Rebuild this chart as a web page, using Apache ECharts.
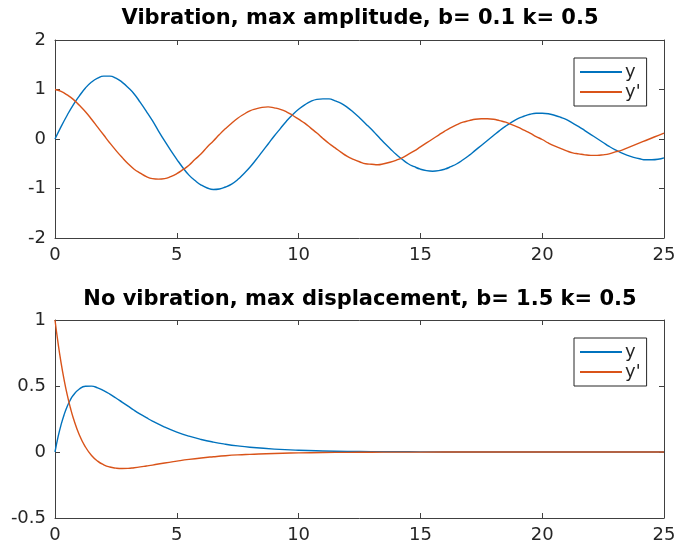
<!doctype html>
<html>
    <head>
        <meta charset="utf-8">
        <style>
            html, body { margin: 0; padding: 0; background: #fff; }
            #main { width: 679px; height: 548px; }
        </style>
    </head>
    <body>
        <div id="main"></div>
        <script src="https://cdn.jsdelivr.net/npm/echarts@6/dist/echarts.min.js"></script>
        <script>
            // top plot: b = 0.1, k = 0.5 (t = 0 .. 25, step 0.25)
            var tTop = [0, 0.25, 0.5, 0.75, 1, 1.25, 1.5, 1.75, 2, 2.25, 2.5, 2.75, 3, 3.25, 3.5, 3.75, 4, 4.25, 4.5, 4.75,
                5, 5.25, 5.5, 5.75, 6, 6.25, 6.5, 6.75, 7, 7.25, 7.5, 7.75, 8, 8.25, 8.5, 8.75, 9, 9.25, 9.5, 9.75,
                10, 10.25, 10.5, 10.75, 11, 11.25, 11.5, 11.75, 12, 12.25, 12.5, 12.75, 13, 13.25, 13.5, 13.75, 14, 14.25, 14.5, 14.75,
                15, 15.25, 15.5, 15.75, 16, 16.25, 16.5, 16.75, 17, 17.25, 17.5, 17.75, 18, 18.25, 18.5, 18.75, 19, 19.25, 19.5, 19.75,
                20, 20.25, 20.5, 20.75, 21, 21.25, 21.5, 21.75, 22, 22.25, 22.5, 22.75, 23, 23.25, 23.5, 23.75, 24, 24.25, 24.5, 24.75, 25];
            var yTop = [0, 0.25, 0.48, 0.69, 0.87, 1.03, 1.15, 1.23, 1.27, 1.27, 1.23, 1.15, 1.04, 0.91, 0.74, 0.56, 0.37, 0.16, -0.04, -0.23,
                -0.41, -0.58, -0.73, -0.84, -0.93, -0.99, -1.02, -1.01, -0.97, -0.91, -0.82, -0.70, -0.57, -0.42, -0.26, -0.10, 0.06, 0.21, 0.36, 0.49,
                0.60, 0.69, 0.76, 0.80, 0.81, 0.81, 0.77, 0.72, 0.64, 0.54, 0.43, 0.31, 0.19, 0.06, -0.07, -0.19, -0.31, -0.41, -0.50, -0.56,
                -0.61, -0.64, -0.65, -0.64, -0.61, -0.56, -0.50, -0.42, -0.33, -0.23, -0.13, -0.03, 0.07, 0.17, 0.26, 0.34, 0.41, 0.46, 0.50, 0.52,
                0.52, 0.51, 0.48, 0.44, 0.39, 0.32, 0.25, 0.17, 0.09, 0.01, -0.07, -0.15, -0.22, -0.28, -0.33, -0.37, -0.40, -0.42, -0.42, -0.41, -0.38];
            var ypTop = [1, 0.96, 0.89, 0.80, 0.68, 0.55, 0.40, 0.24, 0.08, -0.08, -0.23, -0.37, -0.50, -0.61, -0.69, -0.76, -0.80, -0.81, -0.80, -0.76,
                -0.70, -0.62, -0.53, -0.41, -0.30, -0.16, -0.04, 0.09, 0.21, 0.32, 0.42, 0.50, 0.57, 0.61, 0.64, 0.65, 0.63, 0.60, 0.55, 0.48,
                0.40, 0.32, 0.22, 0.12, 0.01, -0.09, -0.18, -0.27, -0.35, -0.41, -0.46, -0.50, -0.51, -0.52, -0.50, -0.47, -0.43, -0.38, -0.31, -0.24,
                -0.16, -0.08, 0, 0.08, 0.16, 0.23, 0.29, 0.34, 0.37, 0.40, 0.41, 0.41, 0.40, 0.37, 0.34, 0.29, 0.24, 0.18, 0.12, 0.05,
                -0.01, -0.08, -0.14, -0.19, -0.24, -0.28, -0.30, -0.32, -0.33, -0.33, -0.32, -0.30, -0.26, -0.23, -0.18, -0.13, -0.08, -0.03, 0.02, 0.07, 0.12];

            // bottom plot: b = 1.5, k = 0.5
            var tBottom = [0, 0.125, 0.25, 0.375, 0.5, 0.625, 0.75, 1, 1.25, 1.5, 1.75, 2, 2.25, 2.5, 2.75, 3, 3.25, 3.5, 3.75, 4,
                4.5, 5, 5.5, 6, 6.5, 7, 7.5, 8, 9, 10, 11, 12, 13, 14, 15, 17, 19, 21, 23, 25];
            var yBottom = [0, 0.114, 0.207, 0.283, 0.345, 0.393, 0.430, 0.477, 0.498, 0.499, 0.486, 0.465, 0.439, 0.409, 0.378, 0.347, 0.316, 0.287, 0.260, 0.234,
                0.189, 0.151, 0.120, 0.095, 0.075, 0.059, 0.046, 0.036, 0.022, 0.013, 0.008, 0.005, 0.003, 0.002, 0.001, 0, 0, 0, 0, 0];
            var ypBottom = [1, 0.826, 0.675, 0.546, 0.434, 0.339, 0.258, 0.129, 0.038, -0.026, -0.069, -0.097, -0.114, -0.122, -0.125, -0.124, -0.119, -0.113, -0.106, -0.099,
                -0.083, -0.069, -0.056, -0.045, -0.036, -0.028, -0.022, -0.018, -0.011, -0.007, -0.004, -0.0025, -0.0015, -0.001, -0.0006, 0, 0, 0, 0, 0];

            var xTicks = [0, 25, 5];
            var blue = '#0072BD';
            var orange = '#D95319';
            var axisColor = '#404040';
            var font = 'DejaVu Sans';

            function pairs(xs, ys) {
                return xs.map(function (x, i) { return [x, ys[i]]; });
            }

            function xAxisFor(grid, pos, show) {
                return {
                    type: 'value', gridIndex: grid, position: pos,
                    min: xTicks[0], max: xTicks[1], interval: xTicks[2],
                    axisLine: { show: true, onZero: false, lineStyle: { color: axisColor, width: 1 } },
                    axisTick: { show: true, inside: true, length: 5, lineStyle: { color: axisColor } },
                    axisLabel: { show: show, color: '#262626', fontFamily: font, fontSize: 18, margin: 8 },
                    splitLine: { show: false }
                };
            }

            function yAxisFor(grid, pos, min, max, step, show) {
                return {
                    type: 'value', gridIndex: grid, position: pos,
                    min: min, max: max, interval: step,
                    axisLine: { show: true, onZero: false, lineStyle: { color: axisColor, width: 1 } },
                    axisTick: { show: true, inside: true, length: 5, lineStyle: { color: axisColor } },
                    axisLabel: { show: show, color: '#262626', fontFamily: font, fontSize: 18, margin: 9 },
                    splitLine: { show: false }
                };
            }

            function legendAt(top) {
                return {
                    orient: 'vertical', left: 574, top: top,
                    data: ['y', "y'"],
                    icon: 'rect', itemWidth: 42, itemHeight: 2, itemGap: 2,
                    padding: [5, 6, 5, 6],
                    borderColor: '#262626', borderWidth: 1,
                    backgroundColor: '#fff',
                    textStyle: { fontFamily: font, fontSize: 18, lineHeight: 18, color: '#262626', padding: [0, 0, 0, -2] },
                    selectedMode: false
                };
            }

            function line(name, color, x, y, xi, yi) {
                return {
                    type: 'line', name: name, xAxisIndex: xi, yAxisIndex: yi,
                    data: pairs(x, y), showSymbol: false, symbol: 'none', smooth: true,
                    lineStyle: { color: color, width: 1.4 }, itemStyle: { color: color },
                    animation: false
                };
            }

            var chart = echarts.init(document.getElementById('main'));

            chart.setOption({
                backgroundColor: '#fff',
                title: [{
                    text: 'Vibration, max amplitude, b= 0.1 k= 0.5',
                    left: 360, top: 8, textAlign: 'center', padding: 0,
                    textStyle: { fontFamily: font, fontSize: 21, fontWeight: 'bold', color: '#000' }
                }, {
                    text: 'No vibration, max displacement, b= 1.5 k= 0.5',
                    left: 360, top: 289, textAlign: 'center', padding: 0,
                    textStyle: { fontFamily: font, fontSize: 21, fontWeight: 'bold', color: '#000' }
                }],
                legend: [legendAt(58), legendAt(338)],
                grid: [
                    { left: 55, width: 609, top: 40, height: 198 },
                    { left: 55, width: 609, top: 320, height: 198 }
                ],
                xAxis: [
                    xAxisFor(0, 'bottom', true), xAxisFor(0, 'top', false),
                    xAxisFor(1, 'bottom', true), xAxisFor(1, 'top', false)
                ],
                yAxis: [
                    yAxisFor(0, 'left', -2, 2, 1, true), yAxisFor(0, 'right', -2, 2, 1, false),
                    yAxisFor(1, 'left', -0.5, 1, 0.5, true), yAxisFor(1, 'right', -0.5, 1, 0.5, false)
                ],
                series: [
                    line('y', blue, tTop, yTop, 0, 0),
                    line("y'", orange, tTop, ypTop, 0, 0),
                    line('y', blue, tBottom, yBottom, 2, 2),
                    line("y'", orange, tBottom, ypBottom, 2, 2)
                ]
            });

            window.onresize = chart.resize;
        </script>
    </body>
</html>
